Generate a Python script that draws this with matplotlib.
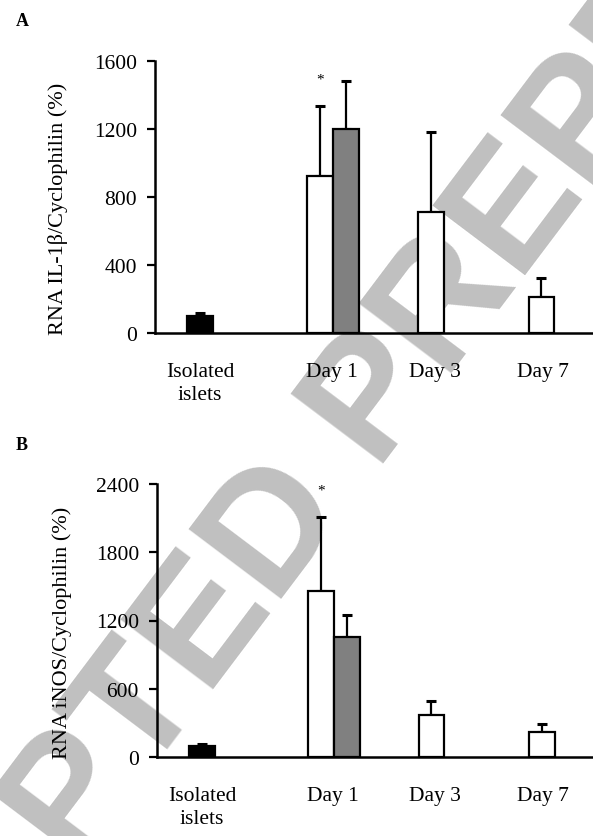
import matplotlib
matplotlib.use("Agg")
import matplotlib.pyplot as plt

# bars: isolated islets, day 1 (two conditions), day 3, day 7
bar_colors = ["black", "white", "#808080", "white", "white"]
il1b_mean = [100, 925, 1200, 710, 213]
il1b_err = [20, 410, 285, 475, 110]
inos_mean = [100, 1463, 1054, 371, 219]
inos_err = [18, 645, 195, 117, 73]
group_labels = ["Isolated\nislets", "Day 1", "Day 3", "Day 7"]
star_bar = 1   # bar index carrying the asterisk

# layout (data units along x, 1 unit = 1 bar width)
bar_x = [1.75, 6.4, 7.4, 10.7, 15.0]
label_x = [1.75, 6.85, 10.85, 15.05]

plt.rcParams["font.family"] = "serif"
plt.rcParams["font.serif"] = ["Liberation Serif", "DejaVu Serif"]

W, H = 593, 837
fig = plt.figure(figsize=(W / 100, H / 100), dpi=100)


def panel(rect, means, errs, ymax, step, ylabel, label_xy):
    ax = fig.add_axes(rect)
    ax.patch.set_facecolor("none")
    ax.bar(bar_x, means, width=1.0, color=bar_colors, edgecolor="black",
           linewidth=1.6, zorder=2)
    ax.errorbar(bar_x, means, yerr=[[0] * len(errs), errs], fmt="none",
                ecolor="black", elinewidth=1.6, capsize=3.6, capthick=2.2,
                zorder=1)
    ax.annotate("*", (bar_x[star_bar], means[star_bar] + errs[star_bar]),
                xytext=(0, 15), textcoords="offset points", ha="center",
                va="bottom", fontsize=11)
    ax.set_xlim(0, 17)
    ax.set_ylim(0, ymax)
    ax.set_yticks(range(0, ymax + 1, step))
    ax.set_xticks(label_x, group_labels, linespacing=1.3)
    ax.tick_params(axis="x", length=0, pad=21, labelsize=15.5)
    ax.tick_params(axis="y", length=6, width=1.6, pad=7, labelsize=15.5)
    for s in ("top", "right"):
        ax.spines[s].set_visible(False)
    for s in ("left", "bottom"):
        ax.spines[s].set_linewidth(1.8)
    ax.set_ylabel(ylabel, fontsize=16)
    ax.yaxis.set_label_coords(*label_xy)
    return ax


axA = panel([155 / W, 1 - 334 / H, 1 - 155 / W, 272 / H], il1b_mean, il1b_err,
            1600, 400, "RNA IL-1β/Cyclophilin (%)", (-0.199, 0.46))
axB = panel([157 / W, 1 - 758 / H, 1 - 157 / W, 273 / H], inos_mean, inos_err,
            2400, 600, "RNA iNOS/Cyclophilin (%)", (-0.195, 0.458))

fig.text(16 / W, 1 - 21 / H, "A", fontsize=13, fontweight="bold",
         ha="left", va="center")
fig.text(16 / W, 1 - 446 / H, "B", fontsize=13, fontweight="bold",
         ha="left", va="center")

# watermark, drawn underneath the axes
fig.text(305 / W, 1 - 495 / H, "ACCEPTED PREPRINT", fontsize=122,
         fontweight="bold", family="Liberation Sans", color="#c0c0c0",
         rotation=53, rotation_mode="anchor", ha="center", va="center",
         zorder=-1)

fig.savefig("out.png", dpi=100)
